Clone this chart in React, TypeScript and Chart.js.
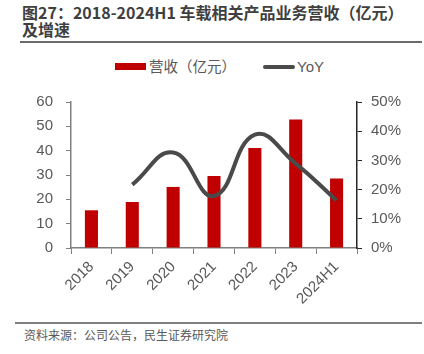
import React, { useEffect, useRef } from "react";
import { Chart, registerables } from "chart.js";

Chart.register(...registerables);

const categories = ["2018", "2019", "2020", "2021", "2022", "2023", "2024H1"];
const revenue = [15.5, 18.9, 25.1, 29.6, 41.1, 52.8, 28.6];
const yoy = [null, 21.7, 32.7, 17.8, 38.8, 28.9, 16.3];
const leftTicks = [0, 60, 10];
const rightTicks = [0, 50, 10];

const titleText = "图27：2018-2024H1 车载相关产品业务营收（亿元）";
const titleText2 = "及增速";
const legendBar = "营收（亿元）";
const legendLine = "YoY";
const sourceText = "资料来源：公司公告，民生证券研究院";

const RED = "#C00000";
const LINE = "#4a4a4a";
const TXT = "#595959";
const NUMFONT = "'Liberation Sans', Arial, sans-serif";
const CJK = "'Noto Sans CJK SC', sans-serif";

export default function App() {
  const ref = useRef<HTMLCanvasElement | null>(null);

  useEffect(() => {
    if (!ref.current) return;
    const chart = new Chart(ref.current, {
      type: "bar",
      data: {
        labels: categories,
        datasets: [
          {
            type: "line",
            label: legendLine,
            data: yoy as any,
            yAxisID: "y1",
            borderColor: LINE,
            borderWidth: 4,
            pointRadius: 0,
            tension: 0.45,
            fill: false,
            order: 0,
          } as any,
          {
            type: "bar",
            label: legendBar,
            data: revenue,
            yAxisID: "y",
            backgroundColor: RED,
            barPercentage: 0.32,
            categoryPercentage: 1,
            order: 1,
          },
        ],
      },
      options: {
        responsive: false,
        animation: false,
        maintainAspectRatio: false,
        layout: { padding: { top: 22, left: 0, right: 0, bottom: 0 } },
        plugins: {
          legend: { display: false },
          tooltip: { enabled: false },
        },
        scales: {
          x: {
            offset: true,
            grid: {
              offset: true,
              drawOnChartArea: false,
              drawTicks: true,
              tickLength: 6,
              color: "#808080",
            },
            border: { display: true, color: "#808080", width: 1.5 },
            ticks: {
              color: TXT,
              font: { family: NUMFONT, size: 15 },
              minRotation: 45,
              maxRotation: 45,
              padding: 4,
              autoSkip: false,
            },
            afterFit: (s: any) => {
              s.height = 70;
            },
          },
          y: {
            position: "left",
            min: leftTicks[0],
            max: leftTicks[1],
            grid: {
              drawOnChartArea: false,
              drawTicks: true,
              tickLength: 5,
              color: "#808080",
            },
            border: { display: true, color: "#808080", width: 1.5 },
            ticks: {
              stepSize: leftTicks[2],
              color: TXT,
              font: { family: NUMFONT, size: 15 },
              padding: 13,
            },
            afterFit: (s: any) => {
              s.width = 71;
            },
          },
          y1: {
            position: "right",
            min: rightTicks[0],
            max: rightTicks[1],
            grid: {
              drawOnChartArea: false,
              drawTicks: true,
              tickLength: 5,
              color: "#262626",
            },
            border: { display: true, color: "#262626", width: 1.5 },
            ticks: {
              stepSize: rightTicks[2],
              color: TXT,
              font: { family: NUMFONT, size: 15 },
              padding: 9,
              callback: (v: any) => v + "%",
            },
            afterFit: (s: any) => {
              s.width = 67;
            },
          },
        },
      },
    });
    return () => chart.destroy();
  }, []);

  return (
    <div
      style={{
        position: "absolute",
        left: 0,
        top: 0,
        width: 424,
        height: 354,
        background: "#fff",
        overflow: "hidden",
      }}
    >
      <div
        style={{
          position: "absolute",
          left: 22,
          top: 4,
          fontFamily: CJK,
          fontWeight: 700,
          fontSize: 16,
          lineHeight: "17px",
          color: "#3f3f3f",
          whiteSpace: "nowrap",
        }}
      >
        <div>{titleText}</div>
        <div>{titleText2}</div>
      </div>
      <div
        style={{
          position: "absolute",
          left: 20,
          top: 41,
          width: 402,
          height: 2,
          background: "#6a6a6a",
        }}
      />
      <div
        style={{
          position: "absolute",
          left: 115,
          top: 63,
          width: 31,
          height: 7,
          background: RED,
        }}
      />
      <div
        style={{
          position: "absolute",
          left: 149,
          top: 56,
          fontFamily: CJK,
          fontSize: 14.5,
          lineHeight: "20px",
          color: TXT,
          whiteSpace: "nowrap",
        }}
      >
        {legendBar}
      </div>
      <div
        style={{
          position: "absolute",
          left: 263,
          top: 65,
          width: 32,
          height: 4,
          borderRadius: 2,
          background: LINE,
        }}
      />
      <div
        style={{
          position: "absolute",
          left: 297,
          top: 57,
          fontFamily: NUMFONT,
          fontSize: 15,
          lineHeight: "20px",
          color: TXT,
          whiteSpace: "nowrap",
        }}
      >
        {legendLine}
      </div>
      <canvas
        ref={ref}
        width={424}
        height={238}
        style={{ position: "absolute", left: 0, top: 80, width: 424, height: 238 }}
      />
      <div
        style={{
          position: "absolute",
          left: 15,
          top: 322,
          width: 407,
          height: 2,
          background: "#7f7f7f",
        }}
      />
      <div
        style={{
          position: "absolute",
          left: 24,
          top: 327,
          fontFamily: CJK,
          fontSize: 12,
          lineHeight: "16px",
          color: TXT,
          whiteSpace: "nowrap",
        }}
      >
        {sourceText}
      </div>
    </div>
  );
}
